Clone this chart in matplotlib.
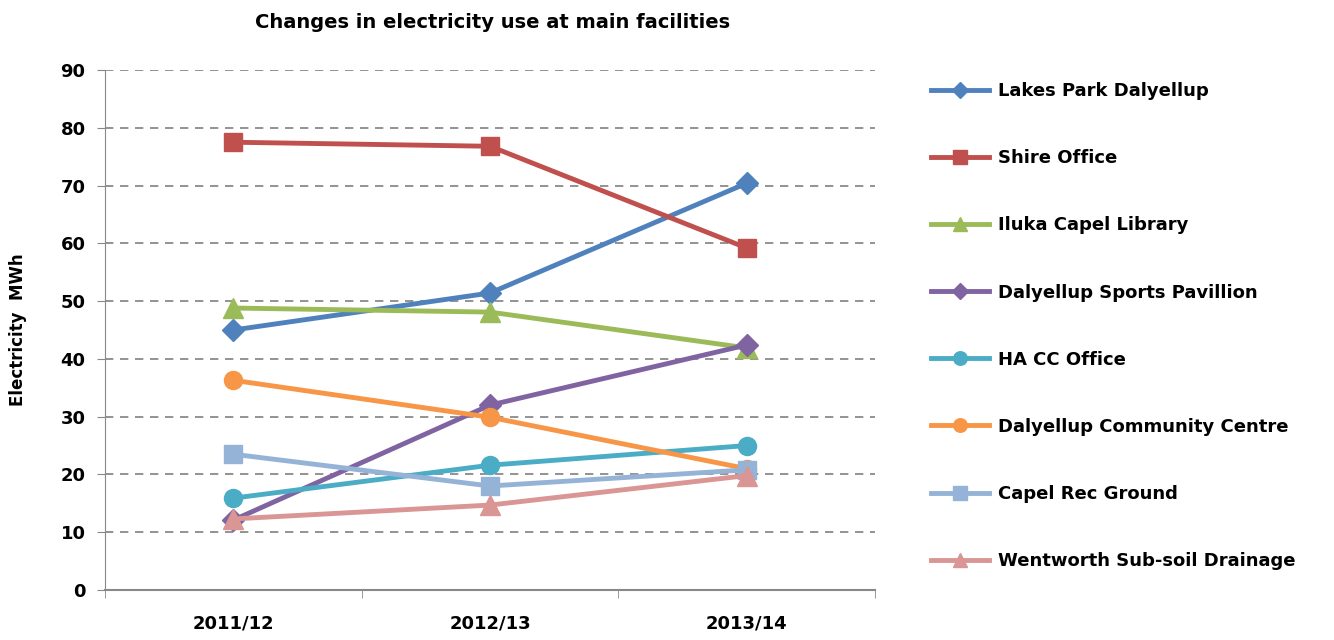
import matplotlib
matplotlib.use("Agg")
import matplotlib.pyplot as plt
from matplotlib.ticker import FixedLocator

years = ["2011/12", "2012/13", "2013/14"]
series_names = [
    "Lakes Park Dalyellup",
    "Shire Office",
    "Iluka Capel Library",
    "Dalyellup Sports Pavillion",
    "HA CC Office",
    "Dalyellup Community Centre",
    "Capel Rec Ground",
    "Wentworth Sub-soil Drainage",
]
lakes_park = [45.0, 51.4, 70.4]
shire_office = [77.5, 76.8, 59.2]
iluka_library = [48.8, 48.1, 41.9]
sports_pavillion = [12.1, 32.0, 42.4]
hacc_office = [15.9, 21.6, 25.0]
community_centre = [36.3, 29.9, 21.0]
capel_rec = [23.5, 18.0, 20.8]
wentworth = [12.3, 14.7, 19.8]
series_values = [lakes_park, shire_office, iluka_library, sports_pavillion,
                 hacc_office, community_centre, capel_rec, wentworth]
colors = ["#4F81BD", "#C0504D", "#9BBB59", "#8064A2",
          "#4BACC6", "#F79646", "#95B3D7", "#D99694"]
markers = ["D", "s", "^", "D", "o", "o", "s", "^"]
msizes = [11, 13, 14, 11, 13, 13, 13, 14]
yticks = list(range(0, 91, 10))

plt.rcParams['font.family'] = ['DejaVu Sans']
fig = plt.figure(figsize=(13.34, 6.4), dpi=100)
ax = fig.add_axes([105/1334, 1-590/640, 770/1334, 520/640])

x = list(range(len(years)))
handles = []
for name, vals, c, m, ms in zip(series_names, series_values, colors, markers, msizes):
    h, = ax.plot(x, vals, color=c, marker=m, markersize=ms, linewidth=3.5,
                 markeredgecolor=c, label=name, zorder=3)
    handles.append(h)

ax.set_xlim(-0.5, 2.5)
ax.set_ylim(0, 90)
ax.set_yticks(yticks)
ax.set_xticks(x)
ax.set_xticklabels(years, fontsize=13, fontweight='bold')
ax.xaxis.set_minor_locator(FixedLocator([-0.5, 0.5, 1.5, 2.5]))
ax.tick_params(axis='x', which='major', length=0, pad=18)
ax.tick_params(axis='x', which='minor', length=6, color='#888888', direction='out')
ax.tick_params(axis='y', length=6, color='#888888', direction='out', labelsize=13, pad=8)
for lbl in ax.get_yticklabels():
    lbl.set_fontweight('bold')
ax.yaxis.grid(True, linestyle=(0, (5, 4)), color='#808080', linewidth=1.2)
ax.set_axisbelow(True)
for s in ['top', 'right']:
    ax.spines[s].set_visible(False)
ax.spines['left'].set_color('#888888')
ax.spines['bottom'].set_color('#888888')
ax.spines['bottom'].set_linewidth(1.5)

ax.set_ylabel("Electricity  MWh", fontsize=12, fontweight='bold', labelpad=24)
fig.text(493/1334, 1-22/640, "Changes in electricity use at main facilities",
         ha='center', va='center', fontsize=14, fontweight='bold')

leg = fig.legend(handles=handles, loc='upper left', bbox_to_anchor=(915/1334, 1-66/640),
                 frameon=False, handlelength=3.2, labelspacing=2.72,
                 prop={'weight': 'bold', 'size': 13}, markerscale=0.75,
                 handletextpad=0.5)

fig.savefig("out.png", dpi=100)
